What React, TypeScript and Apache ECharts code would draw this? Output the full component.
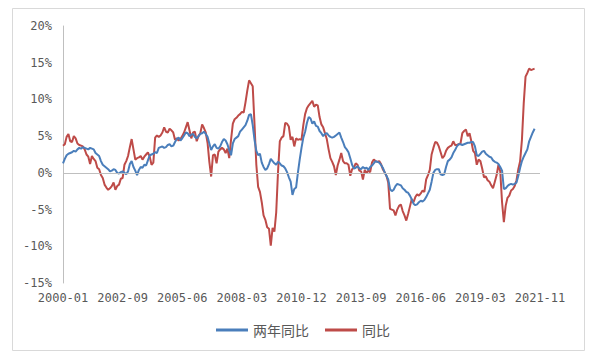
import React, { useEffect, useRef } from "react";
import * as echarts from "echarts";

// Monthly categories from 2000-01 (265 slots on the axis)
const categories: string[] = [];
for (let y = 2000, m = 1, k = 0; k < 265; k++) {
  categories.push(`${y}-${String(m).padStart(2, "0")}`);
  m++;
  if (m > 12) { m = 1; y++; }
}

const tickLabels = ["2000-01", "2002-09", "2005-06", "2008-03", "2010-12", "2013-09", "2016-06", "2019-03", "2021-11"];
const yTicks = [-15, -10, -5, 0, 5, 10, 15, 20];

const twoYear = [
  1.3, 1.9, 2.4, 2.6, 2.7, 2.8, 3.0, 2.9, 3.2, 3.4, 3.3, 3.5, 3.4, 3.3, 3.2, 3.4, 3.3, 3.2, 2.7, 2.5,
  2.3, 1.6, 1.1, 0.9, 0.7, 0.5, 0.2, 0.3, 0.5, 0.4, 0.0, -0.1, 0.1, 0.2, 0.0, -0.2, 0.2, 1.2, 1.6, 0.8,
  0.3, -0.3, 0.4, 0.8, 0.7, 1.1, 1.0, 1.7, 2.4, 2.5, 2.6, 2.8, 2.7, 3.4, 3.5, 3.6, 3.4, 3.5, 3.8, 3.9,
  3.6, 3.7, 4.2, 4.6, 4.8, 4.4, 4.7, 5.1, 5.5, 5.4, 5.0, 5.2, 5.3, 4.9, 4.7, 5.0, 5.3, 5.4, 5.6, 5.3,
  4.9, 4.0, 3.1, 3.6, 3.9, 3.4, 3.3, 3.6, 4.2, 4.6, 4.4, 3.9, 3.1, 2.4, 4.0, 4.6, 4.8, 5.0, 5.6, 5.9,
  6.2, 6.5, 7.1, 7.9, 8.0, 6.5, 4.5, 3.0, 2.4, 2.6, 1.4, 0.8, 0.4, 0.6, 1.2, 1.9, 1.6, 1.3, 1.1, 1.5,
  1.3, 1.0, 0.9, 0.6, 0.1, -0.6, -1.2, -3.0, -2.2, -2.0, 0.0, 1.8, 3.4, 4.8, 5.6, 6.8, 7.6, 7.4, 6.7, 7.0,
  6.4, 6.3, 5.7, 5.4, 5.0, 5.3, 5.4, 5.1, 4.9, 4.8, 4.9, 5.1, 5.3, 5.5, 4.8, 4.2, 3.5, 3.2, 2.8, 2.0,
  1.1, 0.6, 0.7, 0.9, 0.6, 0.5, 0.8, 0.6, 0.7, 0.4, 0.8, 1.0, 1.3, 1.6, 1.5, 1.4, 1.1, 0.7, 0.1, -0.4,
  -0.9, -2.2, -2.5, -2.3, -1.8, -1.5, -1.6, -1.7, -2.1, -2.3, -2.6, -2.7, -3.1, -3.6, -4.2, -4.4, -4.3, -4.0, -3.8, -3.9,
  -3.7, -3.3, -2.8, -2.3, -1.2, 0.0, 0.4, 0.5, 0.5, -0.2, -0.3, -0.2, 0.8, 1.6, 1.8, 2.1, 2.7, 3.1, 3.6, 3.9,
  3.9, 3.8, 3.9, 4.0, 4.1, 4.1, 4.2, 4.2, 3.6, 2.4, 2.3, 2.6, 2.9, 3.0, 2.6, 2.4, 2.2, 2.1, 1.7, 1.5,
  1.4, 1.2, 0.8, 0.3, -2.2, -2.1, -1.8, -1.6, -1.5, -1.6, -1.5, -1.3, -0.4, 0.7, 1.6, 2.2, 2.7, 3.2, 4.3, 4.9,
  5.5, 6.0,
];

const yoy = [
  3.7, 3.9, 4.9, 5.3, 4.3, 4.2, 5.0, 4.7, 4.0, 3.8, 3.7, 3.6, 3.2, 2.5, 2.2, 1.2, 2.3, 1.9, 1.6, 0.7,
  0.5, -0.3, -0.7, -1.6, -2.0, -2.3, -2.1, -1.8, -1.3, -2.3, -1.8, -1.6, -0.8, -0.7, 1.1, 1.6, 2.3, 3.5, 4.6, 3.2,
  1.8, 2.0, 2.1, 2.3, 1.8, 2.2, 2.5, 2.8, 2.2, 1.1, 1.4, 4.8, 5.1, 4.9, 5.1, 5.5, 6.2, 5.6, 5.5, 6.0,
  5.8, 5.5, 4.5, 4.7, 4.4, 4.6, 5.0, 5.5, 6.2, 6.9, 5.8, 4.7, 5.5, 5.6, 4.3, 5.0, 5.4, 6.6, 6.1, 5.5,
  4.1, 1.5, -0.5, 2.4, 2.5, 1.3, 2.9, 3.2, 3.4, 3.2, 2.7, 3.3, 2.0, 4.5, 6.7, 7.3, 7.5, 7.8, 8.0, 8.3,
  8.2, 9.6, 11.2, 12.6, 12.2, 11.8, 6.6, 1.1, -1.9, -2.6, -4.0, -5.8, -6.4, -7.4, -7.6, -9.9, -7.5, -8.0, -5.4, 0.1,
  4.3, 4.8, 5.0, 6.8, 6.7, 6.3, 4.5, 4.9, 3.6, 4.7, 4.5, 4.6, 4.5, 6.5, 8.0, 8.8, 9.2, 9.5, 9.8, 9.0,
  9.3, 9.2, 7.6, 6.6, 6.2, 5.4, 4.6, 3.2, 2.0, 1.5, 0.9, -0.3, 1.0, 1.8, 2.7, 1.6, 1.3, 1.3, 1.1, -0.4,
  0.5, 0.7, 1.3, 1.1, 0.3, 0.2, -0.9, 0.4, 0.0, 0.3, 0.1, 1.4, 1.8, 1.6, 1.5, 1.6, 1.2, 0.5, 0.1, -0.4,
  -1.3, -4.9, -5.0, -5.1, -5.8, -5.0, -4.5, -4.3, -5.2, -5.8, -6.5, -5.6, -4.6, -3.6, -4.0, -3.3, -2.9, -3.1, -2.8, -2.4,
  -2.6, -0.9, -0.3, 0.4, 2.5, 3.4, 4.2, 4.1, 3.6, 2.8, 2.0, 2.3, 3.0, 3.4, 3.6, 3.7, 4.3, 3.8, 3.8, 3.9,
  4.0, 5.4, 5.7, 5.9, 5.0, 5.4, 4.3, 3.0, 2.7, 1.1, 1.8, 1.6, 0.6, -0.6, -0.5, -1.0, -1.2, -1.7, -2.1, -1.2,
  -0.3, 1.1, 0.2, -4.0, -6.7, -4.5, -3.4, -3.1, -2.4, -2.2, -1.8, -1.0, 0.5, 1.6, 4.5, 9.5, 13.1, 13.6, 14.2, 14.0,
  14.1, 14.2,
];

const seriesNames = ["两年同比", "同比"];
const colors = ["#4A7EBB", "#BE4B48"];

export default function App() {
  const ref = useRef<HTMLDivElement>(null);
  useEffect(() => {
    if (!ref.current) return;
    const chart = echarts.init(ref.current, null, { renderer: "svg" });
    const labelFont = "'DejaVu Sans Mono', monospace";
    chart.setOption({
      animation: false,
      backgroundColor: "#ffffff",
      graphic: [
        {
          type: "rect",
          shape: { x: 12.5, y: 8.5, width: 572, height: 342 },
          style: { fill: "none", stroke: "#D9D9D9", lineWidth: 1 },
          silent: true,
        },
      ],
      grid: { left: 63, right: 57, top: 26, bottom: 75, containLabel: false },
      legend: {
        left: 211,
        top: 318,
        icon: "rect",
        itemWidth: 32,
        itemHeight: 3,
        itemGap: 16,
        textStyle: { fontSize: 14, color: "#595959", fontFamily: "'Noto Sans CJK SC', sans-serif" },
        data: seriesNames,
      },
      xAxis: {
        type: "category",
        data: categories,
        boundaryGap: false,
        axisLine: { show: false, onZero: false },
        axisTick: { show: false },
        splitLine: { show: false },
        axisLabel: {
          interval: 32,
          margin: 9,
          fontSize: 12,
          color: "#595959",
          fontFamily: labelFont,
          formatter: (_v: string, idx: number) => (idx % 33 === 0 ? tickLabels[idx / 33] ?? "" : ""),
        },
      },
      yAxis: {
        type: "value",
        min: yTicks[0],
        max: yTicks[yTicks.length - 1],
        interval: 5,
        axisLine: { show: true, lineStyle: { color: "#BFBFBF", width: 1 } },
        axisTick: { show: false },
        splitLine: { show: false },
        axisLabel: {
          margin: 11,
          fontSize: 12,
          color: "#595959",
          fontFamily: labelFont,
          formatter: "{value}%",
        },
      },
      series: [
        {
          name: seriesNames[0],
          type: "line",
          data: twoYear,
          showSymbol: false,
          symbol: "none",
          lineStyle: { width: 2, color: colors[0] },
          itemStyle: { color: colors[0] },
          z: 3,
          markLine: {
            silent: true,
            symbol: "none",
            label: { show: false },
            lineStyle: { color: "#BFBFBF", width: 1, type: "solid" },
            data: [{ yAxis: 0 }],
          },
        },
        {
          name: seriesNames[1],
          type: "line",
          data: yoy,
          showSymbol: false,
          symbol: "none",
          lineStyle: { width: 2, color: colors[1] },
          itemStyle: { color: colors[1] },
          z: 2,
        },
      ],
    });
    return () => chart.dispose();
  }, []);
  return <div ref={ref} style={{ position: "fixed", left: 0, top: 0, width: 597, height: 358 }} />;
}
